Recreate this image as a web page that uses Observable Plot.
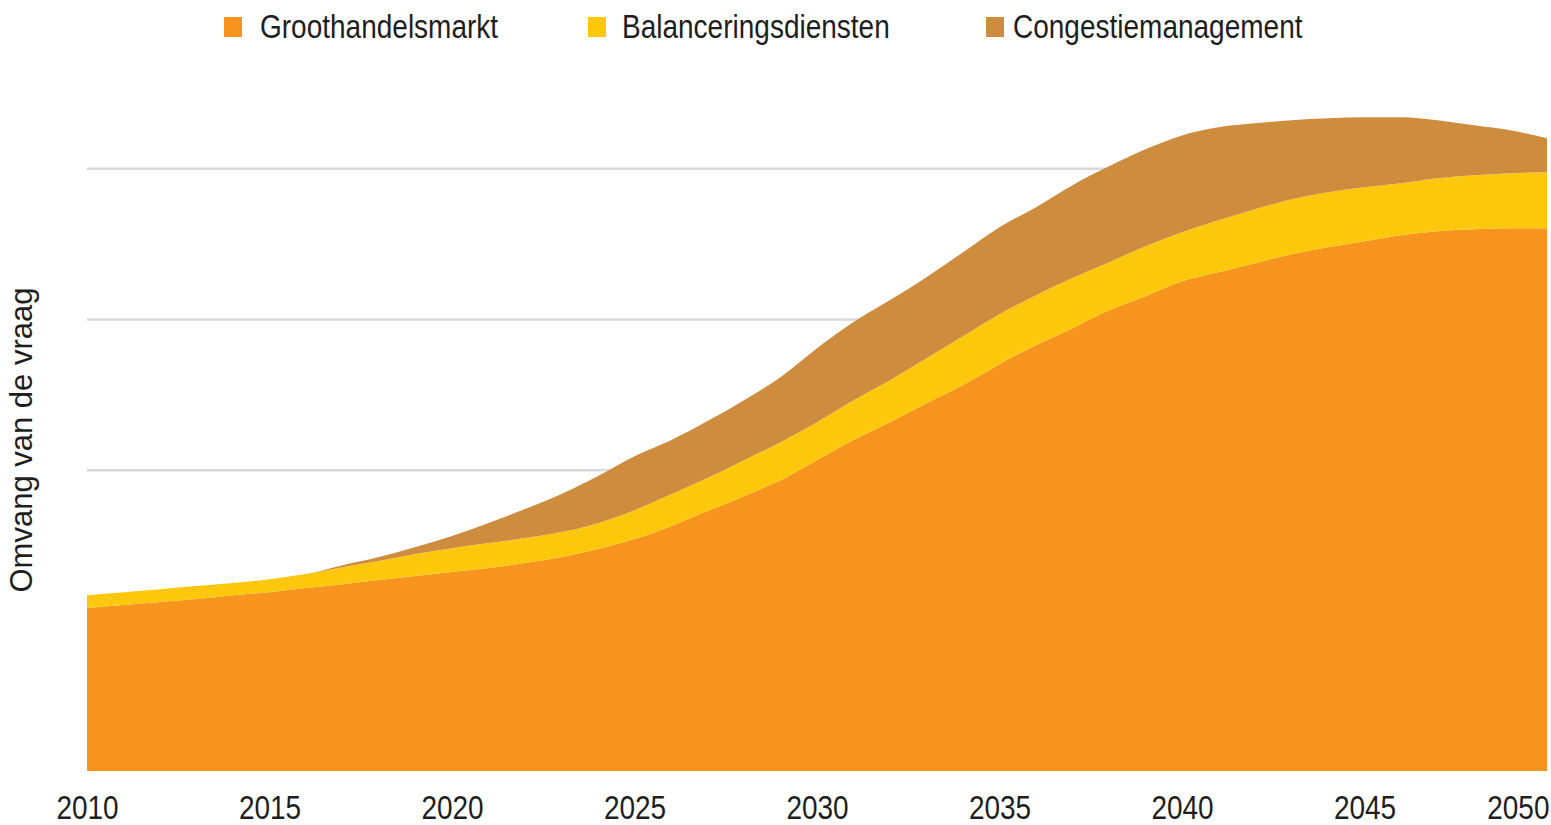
<!DOCTYPE html>
<html>
<head>
<meta charset="utf-8">
<script src="https://cdn.jsdelivr.net/npm/d3@7"></script>
<script src="https://cdn.jsdelivr.net/npm/@observablehq/plot@0.6"></script>
<style>
  html, body { margin: 0; padding: 0; background: #fff; }
  body { width: 1551px; height: 825px; overflow: hidden; font-family: "Liberation Sans", Arial, sans-serif; }
  #legend { position: relative; height: 55px; width: 1551px; }
  .sw { position: absolute; top: 17px; width: 18px; height: 20px; }
  .lt { position: absolute; top: 8px; font-size: 28px; line-height: 38px; color: #1e1e1e; white-space: nowrap; transform: scaleY(1.2); transform-origin: 50% 50%; }
  svg text { font-family: "Liberation Sans", Arial, sans-serif; }
</style>
</head>
<body>
<div id="legend"></div>
<div id="chart"></div>
<script>
const years = [2010,2011,2012,2013,2014,2015,2016,2017,2018,2019,2020,2021,2022,2023,2024,2025,2026,2027,2028,2029,2030,2031,2032,2033,2034,2035,2036,2037,2038,2039,2040,2041,2042,2043,2044,2045,2046,2047,2048,2049,2050];

const series = ["Groothandelsmarkt", "Balanceringsdiensten", "Congestiemanagement"];
const colors = ["#F7941E", "#FDC70C", "#CE8C3F"];

const groothandel = [1.081,1.101,1.121,1.141,1.167,1.187,1.214,1.240,1.267,1.294,1.320,1.347,1.380,1.420,1.473,1.539,1.625,1.725,1.824,1.930,2.063,2.196,2.315,2.441,2.561,2.700,2.826,2.939,3.058,3.151,3.250,3.310,3.370,3.430,3.476,3.516,3.556,3.582,3.595,3.602,3.602];
const balancering = [0.086,0.086,0.086,0.086,0.080,0.086,0.093,0.113,0.126,0.146,0.159,0.166,0.166,0.166,0.172,0.192,0.212,0.219,0.239,0.252,0.252,0.265,0.279,0.299,0.325,0.332,0.332,0.332,0.318,0.332,0.325,0.345,0.358,0.365,0.365,0.358,0.345,0.352,0.358,0.365,0.371];
const congestie = [0,0,0,0,0,0,0,0.013,0.027,0.046,0.080,0.133,0.192,0.252,0.312,0.358,0.358,0.378,0.398,0.431,0.490,0.518,0.531,0.537,0.557,0.577,0.584,0.617,0.637,0.643,0.643,0.617,0.570,0.524,0.491,0.464,0.438,0.385,0.332,0.285,0.226];

const xTicks = [2010,2015,2020,2025,2030,2035,2040,2045,2050];
const yGrid = [1,2,3,4];
const yLabel = "Omvang van de vraag";

// legend
const legendSwatchX = [224, 588, 986];
const legendTextX = [260, 622, 1013];
const legend = document.getElementById("legend");
series.forEach((s, i) => {
  const sw = document.createElement("div");
  sw.className = "sw";
  sw.style.left = legendSwatchX[i] + "px";
  sw.style.background = colors[i];
  legend.appendChild(sw);
  const t = document.createElement("div");
  t.className = "lt";
  t.style.left = legendTextX[i] + "px";
  t.textContent = s;
  legend.appendChild(t);
});

const values = [groothandel, balancering, congestie];
const data = [];
series.forEach((s, si) => {
  years.forEach((y, i) => data.push({year: y, series: s, value: values[si][i]}));
});

const chart = Plot.plot({
  width: 1551,
  height: 770,
  marginLeft: 87,
  marginRight: 4,
  marginTop: 53,
  marginBottom: 54,
  x: {domain: [2010, 2050], axis: null},
  y: {domain: [0, 4.4], axis: null},
  color: {domain: series, range: colors},
  marks: [
    Plot.gridY(yGrid, {stroke: "#d9d9d9", strokeWidth: 2.5, strokeOpacity: 1}),
    Plot.areaY(data, {x: "year", y: "value", fill: "series", order: series, z: "series", curve: "monotone-x"}),
    Plot.axisX(xTicks.slice(0, -1), {tickSize: 0, tickPadding: 24, fontSize: 28, fill: "#1e1e1e", tickFormat: d => String(d), label: null}),
    Plot.axisX(xTicks.slice(-1), {tickSize: 0, tickPadding: 24, fontSize: 28, fill: "#1e1e1e", textAnchor: "end", dx: 2, tickFormat: d => String(d), label: null}),
    Plot.text([yLabel], {frameAnchor: "left", rotate: -90, dx: -65, fontSize: 31, fill: "#1e1e1e", textAnchor: "middle", lineAnchor: "middle", text: d => d})
  ]
});
chart.querySelectorAll("text").forEach(t => {
  if (/^\d{4}$/.test(t.textContent.trim())) {
    const tr = t.getAttribute("transform");
    if (tr) t.setAttribute("transform", tr + " scale(1,1.2)");
    else {
      const x = t.getAttribute("x") || 0, y = t.getAttribute("y") || 0;
      t.setAttribute("transform", `translate(${x},${y}) scale(1,1.2)`);
      t.removeAttribute("x"); t.removeAttribute("y");
    }
  }
});
document.getElementById("chart").appendChild(chart);
</script>
</body>
</html>
